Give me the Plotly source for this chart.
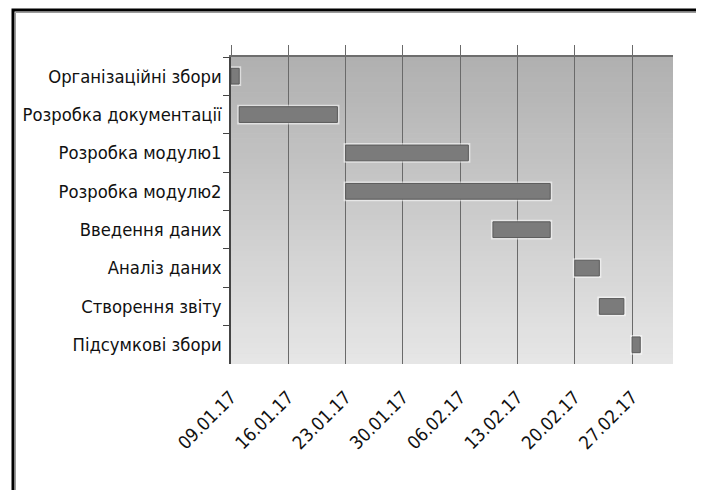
import plotly.graph_objects as go

# ---- data ----
tasks = [
    "Організаційні збори",
    "Розробка документації",
    "Розробка модулю1",
    "Розробка модулю2",
    "Введення даних",
    "Аналіз даних",
    "Створення звіту",
    "Підсумкові збори",
]
start_dates = ["2017-01-09", "2017-01-10", "2017-01-23", "2017-01-23",
               "2017-02-10", "2017-02-20", "2017-02-23", "2017-02-27"]
duration_days = [1, 12, 15, 25, 7, 3, 3, 1]
tick_dates = ["2017-01-09", "2017-01-16", "2017-01-23", "2017-01-30",
              "2017-02-06", "2017-02-13", "2017-02-20", "2017-02-27"]
tick_labels = ["09.01.17", "16.01.17", "23.01.17", "30.01.17",
               "06.02.17", "13.02.17", "20.02.17", "27.02.17"]
x_range = ["2017-01-09", "2017-03-04"]

DAY_MS = 86400000
FONT = "Liberation Sans Narrow, DejaVu Sans Condensed, Arial Narrow, sans-serif"

OFF = 8  # page body margin
W, H = 704, 490
ML, MT = 231 - OFF, 57 - OFF
PW, PH = 442, 307
MR = W - ML - PW
MB = H - MT - PH


def px_x(p):
    return (p - OFF - ML) / PW


def px_y(p):
    return (MT + PH - (p - OFF)) / PH


durations_ms = [d * DAY_MS for d in duration_days]

fig = go.Figure()

# soft light halo around the bars
fig.add_trace(go.Bar(
    y=tasks, base=start_dates, x=durations_ms, orientation="h", width=0.41,
    marker=dict(color="rgba(255,255,255,0)",
                line=dict(color="rgba(255,255,255,0.55)", width=4)),
    hoverinfo="skip", showlegend=False,
))
fig.add_trace(go.Bar(
    y=tasks, base=start_dates, x=durations_ms, orientation="h", width=0.41,
    marker=dict(color="#7b7b7b", line=dict(color="#5a5a5a", width=1)),
    hoverinfo="skip", showlegend=False,
))
# helper trace for the top axis
fig.add_trace(go.Scatter(x=x_range, y=[tasks[0], tasks[0]], xaxis="x2",
                         mode="markers", marker=dict(opacity=0),
                         hoverinfo="skip", showlegend=False))

shapes = []
# gradient background of plot area
n = 60
c_top, c_bot = 176, 230
for i in range(n):
    t = i / (n - 1)
    c = round(c_top + (c_bot - c_top) * t)
    shapes.append(dict(type="rect", xref="x domain", yref="y domain",
                       x0=0, x1=1, y0=1 - (i + 1) / n, y1=1 - i / n + 0.002,
                       fillcolor=f"rgb({c},{c},{c})", line=dict(width=0),
                       layer="below"))
# outer document frame
shapes.append(dict(type="path", xref="paper", yref="paper",
                   path=f"M {px_x(13)} {px_y(500)} L {px_x(13)} {px_y(10)} L {px_x(720)} {px_y(10)}",
                   line=dict(color="black", width=3)))
shapes.append(dict(type="path", xref="paper", yref="paper",
                   path=f"M {px_x(15.5)} {px_y(500)} L {px_x(15.5)} {px_y(12.5)} L {px_x(720)} {px_y(12.5)}",
                   line=dict(color="#9a9a9a", width=1)))

fig.update_layout(
    width=W, height=H,
    margin=dict(l=ML, r=MR, t=MT, b=MB, pad=0),
    paper_bgcolor="white",
    plot_bgcolor="#d0d0d0",
    barmode="overlay",
    shapes=shapes,
    font=dict(family=FONT, size=18.3, color="#111111"),
    xaxis=dict(
        type="date",
        range=x_range,
        tickvals=tick_dates,
        ticktext=tick_labels,
        tickangle=-45,
        ticks="",
        showgrid=True,
        gridcolor="#6a6a6a",
        gridwidth=1,
        showline=False,
        zeroline=False,
        ticklabelstandoff=18,
        tickfont=dict(family=FONT, size=18.3, color="#111111"),
        fixedrange=True,
    ),
    xaxis2=dict(
        type="date",
        overlaying="x",
        matches="x",
        side="top",
        tickvals=tick_dates,
        showticklabels=False,
        ticks="outside",
        ticklen=10,
        tickcolor="#6a6a6a",
        tickwidth=1,
        showline=True,
        linecolor="#6e6e6e",
        linewidth=1.5,
        showgrid=False,
        zeroline=False,
    ),
    yaxis=dict(
        type="category",
        categoryorder="array",
        categoryarray=tasks,
        autorange="reversed",
        tickson="boundaries",
        ticks="outside",
        ticklen=6,
        tickcolor="#444444",
        showline=True,
        linecolor="#444444",
        linewidth=1.5,
        showgrid=False,
        zeroline=False,
        ticklabelstandoff=4,
        tickfont=dict(family=FONT, size=18.3, color="#111111"),
        fixedrange=True,
    ),
)

fig.write_html("out.html", config={"displayModeBar": False})
